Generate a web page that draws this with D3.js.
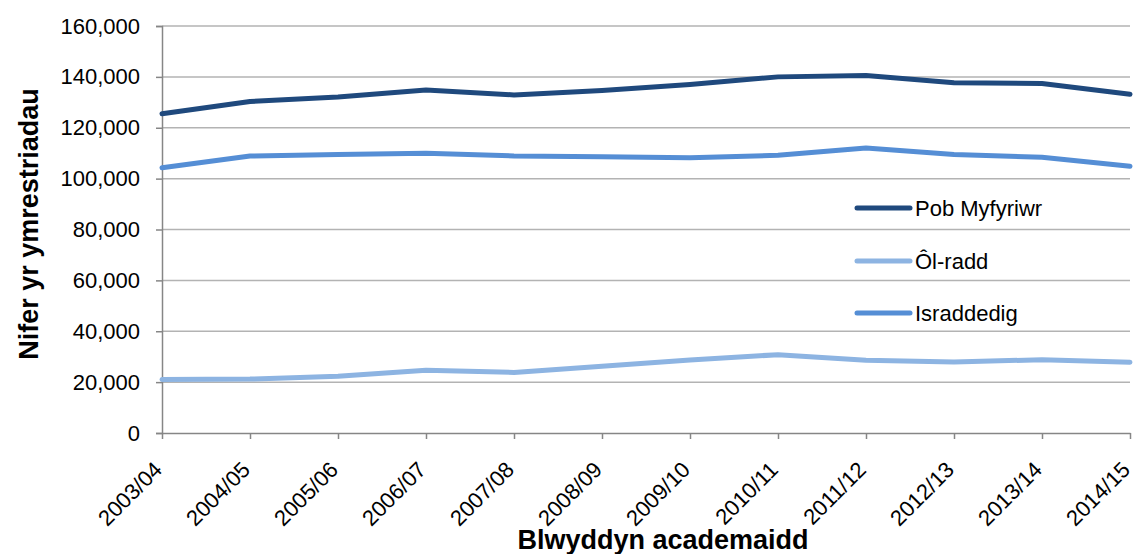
<!DOCTYPE html>
<html><head><meta charset="utf-8">
<script src="https://cdn.jsdelivr.net/npm/d3@7"></script>
<style>body{margin:0;background:#fff}svg{display:block}text{font-family:"Liberation Sans",Arial,sans-serif}</style>
</head><body><svg id="c" width="1135" height="554"></svg>
<script>
const years = ["2003/04","2004/05","2005/06","2006/07","2007/08","2008/09","2009/10","2010/11","2011/12","2012/13","2013/14","2014/15"];
const pobMyfyriwr = [125500,130300,132100,134800,132900,134600,137000,140000,140500,137700,137400,133200];
const olRadd = [21000,21200,22300,24700,23800,26200,28700,30800,28600,27900,28800,27800];
const israddedig = [104300,108900,109500,110000,108900,108600,108200,109200,112000,109500,108400,104900];
const yTicks = [0,20000,40000,60000,80000,100000,120000,140000,160000];
const seriesNames = ["Pob Myfyriwr","Ôl-radd","Israddedig"];
const colors = ["#1F497D","#8DB4E2","#558ED5"];

const svg = d3.select("#c");
const L=162, R=1130, T=26, B=433;
const x = d3.scalePoint().domain(years).range([L,R]);
const y = d3.scaleLinear().domain([0,160000]).range([B,T]);

// gridlines
svg.append("g").selectAll("line").data(yTicks.slice(1)).join("line")
  .attr("x1",L).attr("x2",R).attr("y1",d=>y(d)).attr("y2",d=>y(d))
  .attr("stroke","#B3B3B3").attr("stroke-width",1.5);

// y axis
const ya = svg.append("g").attr("transform",`translate(${L},0)`)
  .call(d3.axisLeft(y).tickValues(yTicks).tickSize(6).tickPadding(16).tickFormat(d3.format(",")));
ya.select(".domain").attr("stroke","#868686").attr("stroke-width",1.5);
ya.selectAll(".tick line").attr("stroke","#868686").attr("stroke-width",1.5);
ya.selectAll("text").attr("font-size",22).attr("fill","#000");

// x axis
const xa = svg.append("g").attr("transform",`translate(0,${B})`)
  .call(d3.axisBottom(x).tickSize(6).tickSizeOuter(0));
xa.select(".domain").attr("stroke","#868686").attr("stroke-width",1.5);
xa.selectAll(".tick line").attr("stroke","#868686").attr("stroke-width",1.5);
xa.selectAll("text").attr("font-size",22).attr("fill","#000")
  .attr("text-anchor","end").attr("dy",null).attr("y",0)
  .attr("transform","translate(1,38) rotate(-45)");

// lines
const data = [pobMyfyriwr, olRadd, israddedig];
const line = d3.line().x((d,i)=>x(years[i])).y(d=>y(d));
svg.append("g").selectAll("path").data(data).join("path")
  .attr("d",line).attr("fill","none").attr("stroke",(d,i)=>colors[i])
  .attr("stroke-width",5).attr("stroke-linejoin","round").attr("stroke-linecap","round");

// legend
const lg = svg.append("g");
const legY = [208,261,313];
seriesNames.forEach((n,i)=>{
  lg.append("line").attr("x1",857).attr("x2",910).attr("y1",legY[i]).attr("y2",legY[i])
    .attr("stroke",colors[i]).attr("stroke-width",5).attr("stroke-linecap","round");
  lg.append("text").attr("x",915).attr("y",legY[i]).attr("dy","0.36em")
    .attr("font-size",22).text(n);
});

// axis titles
svg.append("text").attr("x",663).attr("y",549).attr("text-anchor","middle")
  .attr("font-size",27).attr("font-weight","bold").text("Blwyddyn academaidd");
svg.append("text").attr("transform","translate(38,224) rotate(-90)").attr("text-anchor","middle")
  .attr("font-size",27).attr("font-weight","bold").text("Nifer yr ymrestriadau");
</script></body></html>
